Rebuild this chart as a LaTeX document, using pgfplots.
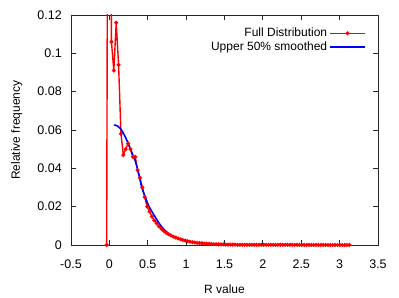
\documentclass[border=0pt]{standalone}
\usepackage{pgfplots}
\pgfplotsset{compat=1.18}
\usepackage{fontspec}
\setmainfont{Liberation Sans}
\begin{document}
\fontsize{12bp}{14bp}\selectfont
\begin{tikzpicture}[font=\fontsize{12bp}{14bp}\selectfont]
\useasboundingbox (-71bp,-53bp) rectangle (328bp,245bp);
\begin{axis}[
  at={(0,0)}, anchor=south west,
  scale only axis, width=307bp, height=230bp,
  xmin=-0.5, xmax=3.5, ymin=0, ymax=0.12,
  xtick={-0.5,0,0.5,1,1.5,2,2.5,3,3.5},
  ytick={0,0.02,0.04,0.06,0.08,0.1,0.12},
  /pgf/number format/assume math mode=true,
  every tick label/.append style={font=\fontsize{12.5bp}{14bp}\selectfont},
  label style={font=\fontsize{12bp}{14bp}\selectfont},
  xticklabel style={/pgf/number format/fixed, yshift=-11bp},
  yticklabel style={/pgf/number format/fixed, /pgf/number format/precision=2, xshift=-5bp},
  tick align=inside, major tick length=5bp,
  minor tick num=0,
  axis line style={black!85, line width=0.8bp},
  tick style={black!85, line width=0.8bp},
  xlabel={R value}, ylabel={Relative frequency},
  xlabel style={yshift=-8bp},
  ylabel style={yshift=7bp},
  legend style={at={(axis description cs:0.964,0.957)}, anchor=north east, draw=none, fill=none,
    cells={anchor=east}, row sep=-1bp, inner sep=1bp, font=\fontsize{12bp}{14bp}\selectfont},
  legend plot pos=right,
  legend image code/.code={\draw[mark repeat=2,mark phase=2,#1] plot coordinates {(0bp,0bp) (17.5bp,0bp) (35bp,0bp)};},
  clip=true,
]
\addplot[red, line width=1.4bp, mark=*, mark size=1.2bp] coordinates {
(-0.035,0) (-0.004,0.5) (0.027,0.106) (0.058,0.091) (0.089,0.116) (0.120,0.094)
(0.151,0.058) (0.182,0.047) (0.213,0.050) (0.244,0.053) (0.275,0.050) (0.306,0.046)
(0.337,0.046) (0.368,0.039) (0.399,0.035) (0.430,0.030) (0.461,0.025) (0.492,0.020)
(0.523,0.0175) (0.554,0.0148) (0.585,0.0128) (0.616,0.0113) (0.647,0.0097) (0.678,0.0084)
(0.709,0.0073) (0.740,0.0064) (0.771,0.0056) (0.802,0.0050) (0.833,0.0044) (0.864,0.0039)
(0.895,0.0034) (0.926,0.0030) (0.957,0.0026) (0.988,0.0023) (1.019,0.0020) (1.050,0.0017)
(1.081,0.0015) (1.112,0.0013) (1.143,0.0011) (1.174,0.0010) (1.205,0.0009) (1.236,0.0008)
(1.267,0.0007) (1.298,0.0006) (1.329,0.0005) (1.360,0.0004) (1.391,0.0004) (1.422,0.0003)
(1.453,0.0003) (1.484,0.0003) (1.515,0.0002) (1.546,0.0002) (1.577,0.0002) (1.608,0.0002)
(1.639,0.0002) (1.670,0.0001) (1.701,0.0001) (1.732,0.0001) (1.763,0.0001) (1.794,0.0001)
(1.825,0.0001) (1.856,0.0001) (1.887,0.0001) (1.918,0.0001) (1.949,0.0001) (1.980,0.0001)
(2.011,0.0001) (2.042,0.0001) (2.073,0.0001) (2.104,0.0001) (2.135,0.0001) (2.166,0.0001)
(2.197,0.0001) (2.228,0.0001) (2.259,0.0001) (2.290,0.0001) (2.321,0.0001) (2.352,0.0001)
(2.383,0.0001) (2.414,0.0001) (2.445,0.0001) (2.476,0.0001) (2.507,0.00005) (2.538,0.00005)
(2.569,0.00005) (2.600,0.00005) (2.631,0.00005) (2.662,0.00005) (2.693,0.00005) (2.724,0.00005)
(2.755,0.00005) (2.786,0.00005) (2.817,0.00005) (2.848,0) (2.879,0) (2.910,0)
(2.941,0) (2.972,0) (3.003,0) (3.034,0) (3.065,0) (3.096,0) (3.127,0)
};
\addlegendentry{Full Distribution}
\addplot[blue, line width=1.6bp, no marks, smooth] coordinates {
(0.06,0.0626) (0.10,0.0622) (0.15,0.0605) (0.20,0.0570) (0.25,0.0525) (0.30,0.0475)
(0.334,0.0443) (0.38,0.0375) (0.42,0.0304) (0.46,0.0258) (0.507,0.0209) (0.55,0.0177)
(0.594,0.0148) (0.64,0.0118) (0.68,0.0096) (0.72,0.0078) (0.767,0.0061) (0.81,0.0050)
(0.855,0.0040) (0.92,0.0030) (1.0,0.0021) (1.05,0.0017) (1.18,0.0010) (1.3,0.0006)
(1.5,0.0003) (1.75,0.00015) (2.0,0.0001) (2.3,0.00007) (2.5,0.00005) (2.75,0.00003)
};
\addlegendentry{Upper 50\% smoothed}
\end{axis}
\end{tikzpicture}
\end{document}
